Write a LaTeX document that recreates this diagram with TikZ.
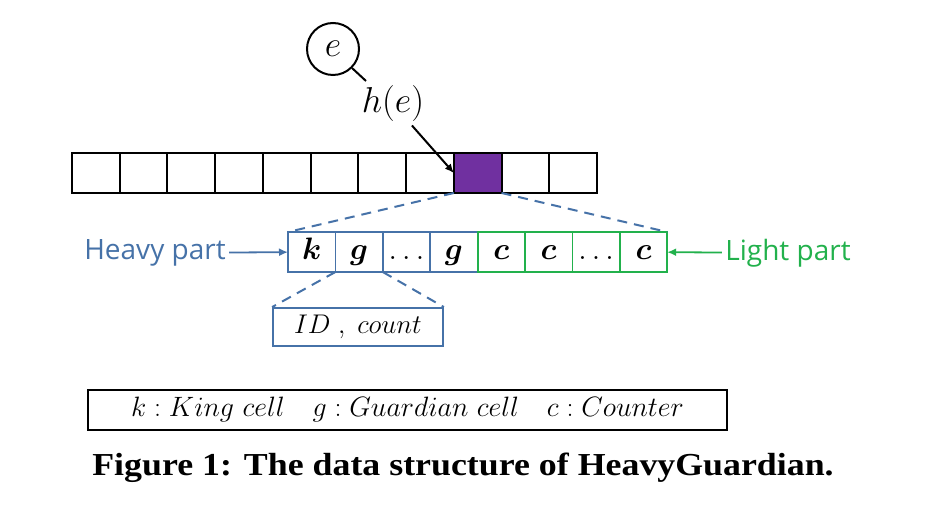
\RequirePackage{fix-cm}
\documentclass[tikz,border=0pt]{standalone}
\usepackage{amsmath}
\usepackage{fontspec}
\usetikzlibrary{arrows.meta}
\newfontfamily\partfont{Open Sans}
\newfontfamily\capfont[FakeStretch=1.12]{Liberation Serif}
\definecolor{hblue}{RGB}{70,114,168}
\definecolor{lgreen}{RGB}{34,177,76}
\definecolor{hpurple}{RGB}{112,48,160}
\begin{document}
\begin{tikzpicture}[x=1pt,y=-1pt,>={Latex[length=9pt,width=8pt]},
    topcell/.style={draw,line width=2pt,minimum width=47.7pt,minimum height=40pt,inner sep=0pt,outer sep=0pt},
    heavycell/.style={draw=hblue,line width=1.8pt,minimum width=47.4pt,minimum height=40pt,inner sep=0pt,outer sep=0pt,
        text height=21pt,text depth=6pt,font=\fontsize{31}{35}\selectfont},
    lightcell/.style={heavycell,draw=lgreen},
    bluedash/.style={hblue,line width=2pt,dash pattern=on 10pt off 7pt}]
                \useasboundingbox (0,0) rectangle (940,510);
                \node[circle,
                    minimum size =52pt ,inner sep=0pt ,
                    line width=2pt ,draw,font=\fontsize{36}{40}\selectfont] (e) at(333,49){$e$};
                \coordinate (grip) at(366,81);
                \node[font=\fontsize{36}{40}\selectfont] (he) at(393,104){$h(e)$};
                % the bucket array
                \node[topcell] (t1) at(95.9,173){};
                \node[topcell] (t2) at(143.6,173){};
                \node[topcell] (t3) at(191.3,173){};
                \node[topcell] (t4) at(239.1,173){};
                \node[topcell] (t5) at(286.8,173){};
                \node[topcell] (t6) at(334.5,173){};
                \node[topcell] (t7) at(382.3,173){};
                \node[topcell] (t8) at(430.0,173){};
                \node[topcell,fill=hpurple] (t9) at(477.7,173){};
                \node[topcell] (t10) at(525.5,173){};
                \node[topcell] (t11) at(573.2,173){};
                % one bucket
                \node[heavycell] (k) at(311.7,252){$\boldsymbol{k}$};
                \node[heavycell] (g1) at(359.1,252){$\boldsymbol{g}$};
                \node[heavycell] (d1) at(406.5,252){$\ldots$};
                \node[heavycell] (g2) at(453.9,252){$\boldsymbol{g}$};
                \node[lightcell] (c1) at(501.3,252){$\boldsymbol{c}$};
                \node[lightcell] (c2) at(548.7,252){$\boldsymbol{c}$};
                \node[lightcell] (d2) at(596.1,252){$\ldots$};
                \node[lightcell] (c3) at(643.5,252){$\boldsymbol{c}$};
                \node[draw=hblue,line width=1.8pt,minimum width=170pt,minimum height=38pt,
                    font=\fontsize{27}{31}\selectfont] (id) at(358,327){$ID\;,\;count$};
                \node[text=hblue,font=\partfont\fontsize{28}{32}\selectfont] (heavy) at(155,253){Heavy part};
                \node[text=lgreen,font=\partfont\fontsize{28}{32}\selectfont] (light) at(788,253){Light part};
                \node[draw,line width=2pt,minimum width=639pt,minimum height=40pt,
                    font=\fontsize{28}{32}\selectfont] (legend) at(407.5,410)
                    {$k : King\ cell\quad g : Guardian\ cell\quad c : Counter$};
                \node[font=\capfont\bfseries\fontsize{32}{36}\selectfont] (caption) at(463,468)
                    {Figure 1: The data structure of HeavyGuardian.};
                \draw[line width=2pt] (e.south east) --(grip);
                \draw[->,line width=2pt] (he) --(t9.west);
                \draw[bluedash] (t9.south west) --(k.north west);
                \draw[bluedash] (t9.south east) --(c3.north east);
                \draw[bluedash] (k.south east) --(id.north west);
                \draw[bluedash] (g1.south east) --(id.north east);
                \draw[->,hblue,line width=1.8pt] (heavy) --(k);
                \draw[->,lgreen,line width=1.8pt] (light) --(c3);
            \end{tikzpicture}
\end{document}
